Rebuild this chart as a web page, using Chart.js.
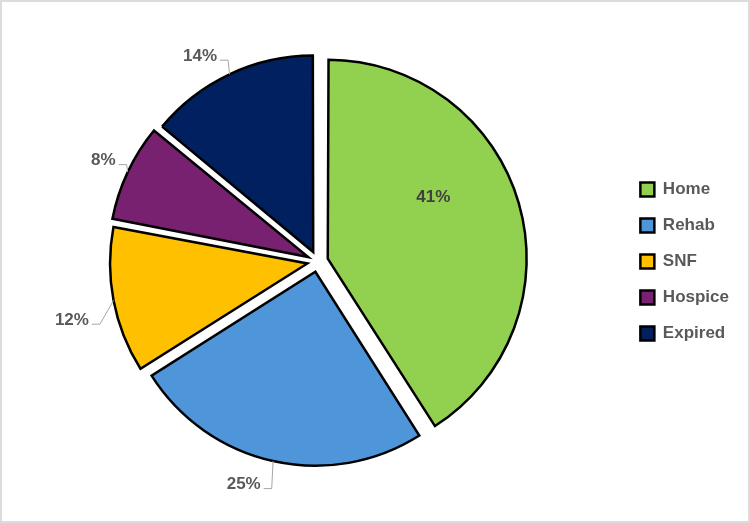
<!DOCTYPE html>
<html>
<head>
<meta charset="utf-8">
<script src="https://cdn.jsdelivr.net/npm/chart.js@4.4.1/dist/chart.umd.min.js"></script>
<style>
    html, body { margin: 0; padding: 0; background: #ffffff; }
    #frame { width: 750px; height: 523px; box-sizing: border-box; border: 2px solid #dcdcdc; }
    canvas { display: block; }
</style>
</head>
<body>
<div id="frame"><canvas id="dischargeChart" width="746" height="519"></canvas></div>
<script>
// Discharge disposition shares (percent)
var categories = ['Home', 'Rehab', 'SNF', 'Hospice', 'Expired'];
var shares = [41, 25, 12, 8, 14];

// Styling
var sliceColors = ['#92d050', '#4e95d9', '#ffc000', '#782170', '#002060'];
var sliceOffset = 42;      // Chart.js translates each arc by offset / 4
var labelShift = [[-11, -27], [-2, 4], [1, 16], [12, -3], [2, 0]]; // Excel "best fit" nudges

var pieLabels = {
    id: 'pieLabels',
    afterDatasetsDraw: function (chart) {
        var ctx = chart.ctx;
        var meta = chart.getDatasetMeta(0);
        ctx.save();
        ctx.font = 'bold 17px "Liberation Sans", Arial, sans-serif';
        ctx.textBaseline = 'middle';
        ctx.textAlign = 'center';
        meta.data.forEach(function (arc, i) {
            var p = arc.getProps(['x', 'y', 'startAngle', 'endAngle', 'outerRadius', 'circumference']);
            var mid = (p.startAngle + p.endAngle) / 2;
            var cos = Math.cos(mid), sin = Math.sin(mid);
            var t = sliceOffset / 4;
            var fix = 1 - Math.sin(Math.min(Math.PI, p.circumference));
            var r = p.outerRadius + t * fix;
            var text = shares[i] + '%';
            var w = ctx.measureText(text).width;

            if (i === 0) {
                // Largest slice keeps its label inside
                var ix = p.x + cos * (t + r * 0.61) + labelShift[i][0];
                var iy = p.y + sin * (t + r * 0.61) + labelShift[i][1];
                ctx.fillStyle = '#404040';
                ctx.fillText(text, ix, iy);
                return;
            }

            // Edge point of the exploded slice
            var ex = p.x + cos * (t + r);
            var ey = p.y + sin * (t + r);
            var side = cos < 0 ? -1 : 1;
            var cx = ex + cos * 20 + side * (w / 2 + 6) + labelShift[i][0];
            var cy = ey + sin * 20 + labelShift[i][1];
            var near = cx - side * (w / 2); // text edge facing the pie

            ctx.strokeStyle = '#a6a6a6';
            ctx.lineWidth = 1;
            ctx.beginPath();
            ctx.moveTo(near - side * 3, cy + 4);
            ctx.lineTo(near - side * 11, cy + 4);
            ctx.lineTo(ex, ey);
            ctx.stroke();

            ctx.fillStyle = '#595959';
            ctx.fillText(text, cx, cy);
        });
        ctx.restore();
    }
};

new Chart(document.getElementById('dischargeChart'), {
    type: 'pie',
    data: {
        labels: categories,
        datasets: [{
            data: shares,
            backgroundColor: sliceColors,
            borderColor: '#000000',
            borderWidth: 2.5,
            borderJoinStyle: 'miter',
            offset: sliceOffset,
            hoverOffset: 0
        }]
    },
    options: {
        responsive: false,
        animation: false,
        radius: 194,
        layout: { padding: { left: 12, right: 9, top: 0, bottom: 0 } },
        events: [],
        plugins: {
            tooltip: { enabled: false },
            legend: {
                position: 'right',
                labels: {
                    boxWidth: 14,
                    boxHeight: 14,
                    padding: 19,
                    color: '#595959',
                    font: { size: 17, weight: 'bold', family: '"Liberation Sans", Arial, sans-serif' }
                }
            }
        }
    },
    plugins: [pieLabels]
});
</script>
</body>
</html>
